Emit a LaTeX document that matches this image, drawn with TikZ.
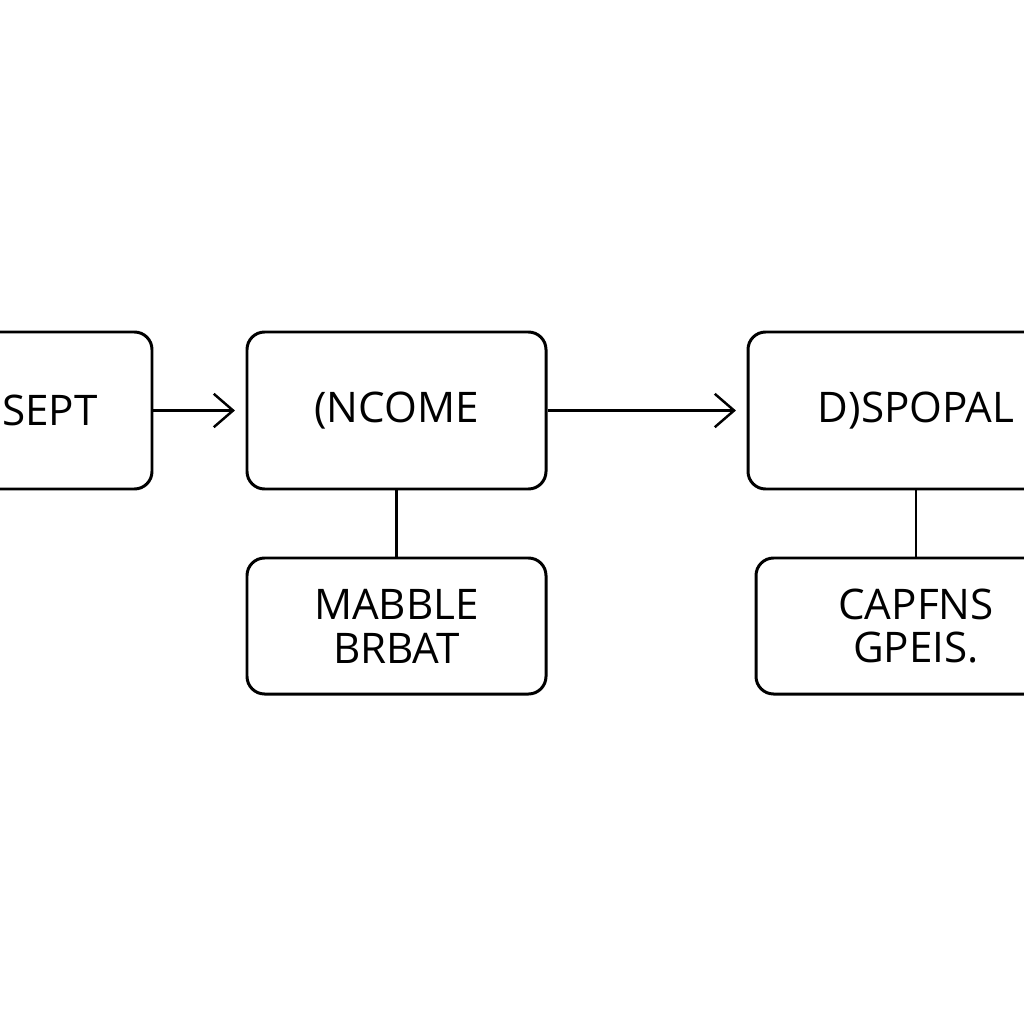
\documentclass[tikz,border=0pt]{standalone}
\usepackage{fontspec}
\setmainfont{Open Sans}
\usetikzlibrary{arrows.meta,positioning}
\tikzset{
  every node/.style={font=\fontsize{24}{25}\selectfont, text=black},
  blk/.style={draw=black, line width=1.7pt, rounded corners=10pt, fill=white, align=center, inner sep=0pt},
  arr/.style={-{Straight Barb[length=11pt,width=19pt,line width=1.4pt]}, line width=1.2pt, shorten >=6pt},
  lnk/.style={line width=1.2pt},
}
\begin{document}
\begin{tikzpicture}[x=0.02cm,y=-0.02cm]
\useasboundingbox (0,0) rectangle (1024,1024);
\clip (0,0) rectangle (1024,1024);
\fill[white] (0,0) rectangle (1024,1024);
% top row
\node[blk, minimum width=204*0.02cm, minimum height=157*0.02cm] (sept) at (50,410.5) {SEPT};
\node[blk, minimum width=299*0.02cm, minimum height=157*0.02cm] (income) at (396.5,410.5) {(NCOME};
\node[blk, minimum width=336*0.02cm, minimum height=157*0.02cm] (disposal) at (916,410.5) {D)SPOPAL};
% bottom row
\node[blk, minimum width=299*0.02cm, minimum height=136*0.02cm] (marble) at (396.5,626) {MABBLE\\BRBAT};
\node[blk, minimum width=320*0.02cm, minimum height=136*0.02cm] (capfns) at (916,626) {CAPFNS\\GPEIS.};
% connectors
\draw[arr] (sept) -- (income);
\draw[arr] (income) -- (disposal);
\draw[lnk] (income) -- (marble);
\draw[lnk] (disposal) -- (capfns);
\end{tikzpicture}
\end{document}
